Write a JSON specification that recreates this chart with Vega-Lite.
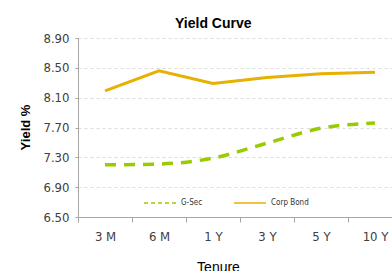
{
  "$schema": "https://vega.github.io/schema/vega-lite/v6.json",
  "autosize": {"type": "none"},
  "width": 324,
  "height": 179,
  "padding": {"left": 78, "top": 38, "right": 0, "bottom": 54},
  "background": "white",
  "title": {
    "text": "Yield Curve",
    "anchor": "start",
    "frame": "group",
    "dx": 97,
    "dy": 23,
    "offset": 10,
    "baseline": "bottom",
    "font": "Liberation Sans",
    "fontSize": 14,
    "fontWeight": "bold",
    "color": "#000000"
  },
  "config": {
    "view": {"stroke": null},
    "font": "Liberation Sans"
  },
  "data": {
    "values": [
      {"tenure": "3 M", "series": "G-Sec", "yield": 7.20},
      {"tenure": "6 M", "series": "G-Sec", "yield": 7.21},
      {"tenure": "1 Y", "series": "G-Sec", "yield": 7.29},
      {"tenure": "3 Y", "series": "G-Sec", "yield": 7.49},
      {"tenure": "5 Y", "series": "G-Sec", "yield": 7.69},
      {"tenure": "10 Y", "series": "G-Sec", "yield": 7.76},
      {"tenure": "3 M", "series": "Corp Bond", "yield": 8.19},
      {"tenure": "6 M", "series": "Corp Bond", "yield": 8.46},
      {"tenure": "1 Y", "series": "Corp Bond", "yield": 8.29},
      {"tenure": "3 Y", "series": "Corp Bond", "yield": 8.37},
      {"tenure": "5 Y", "series": "Corp Bond", "yield": 8.42},
      {"tenure": "10 Y", "series": "Corp Bond", "yield": 8.44}
    ]
  },
  "encoding": {
    "x": {
      "field": "tenure",
      "type": "ordinal",
      "sort": ["3 M", "6 M", "1 Y", "3 Y", "5 Y", "10 Y"],
      "scale": {"paddingInner": 0, "paddingOuter": 0},
      "axis": {
        "title": "Tenure",
        "titleX": 140,
        "titleY": 43,
        "titleAlign": "center",
        "titleBaseline": "top",
        "titleFontSize": 14,
        "titleFontWeight": "normal",
        "titleColor": "#000000",
        "titleFont": "Liberation Sans",
        "labelAngle": 0,
        "labelFontSize": 13,
        "labelFont": "Liberation Sans Narrow, DejaVu Sans Condensed, Liberation Sans",
        "labelColor": "#404040",
        "labelPadding": 14,
        "labelBaseline": "middle",
        "tickBand": "extent",
        "tickSize": 5,
        "tickColor": "#a6a6a6",
        "domainColor": "#a6a6a6",
        "grid": false
      }
    },
    "y": {
      "field": "yield",
      "type": "quantitative",
      "scale": {"domain": [6.5, 8.9], "nice": false, "zero": false},
      "axis": {
        "title": "Yield %",
        "titleX": -53,
        "titleY": 89,
        "titleAngle": 270,
        "titleAlign": "center",
        "titleBaseline": "middle",
        "titleFontSize": 13,
        "titleFontWeight": "bold",
        "titleColor": "#000000",
        "values": [6.5, 6.9, 7.3, 7.7, 8.1, 8.5, 8.9],
        "format": ".2f",
        "labelFontSize": 13,
        "labelFont": "Liberation Sans Narrow, DejaVu Sans Condensed, Liberation Sans",
        "labelColor": "#404040",
        "labelPadding": 6,
        "tickSize": 3,
        "tickColor": "#a6a6a6",
        "domainColor": "#a6a6a6",
        "grid": true,
        "gridDash": [3, 3],
        "gridColor": "#dcdcdc"
      }
    },
    "color": {
      "field": "series",
      "type": "nominal",
      "scale": {"domain": ["G-Sec", "Corp Bond"], "range": ["#99cc00", "#e8b000"]},
      "legend": {
        "title": null,
        "orient": "none",
        "legendX": 65,
        "legendY": 148,
        "direction": "horizontal",
        "symbolType": "stroke",
        "symbolSize": 1024,
        "symbolStrokeWidth": 1.5,
        "labelFontSize": 8,
        "labelFont": "Liberation Sans Narrow, DejaVu Sans Condensed, Liberation Sans",
        "labelColor": "#333333",
        "labelOffset": 4,
        "columnPadding": 28,
        "encode": {
          "symbols": {
            "update": {
              "strokeDash": {"signal": "datum.value === 'G-Sec' ? [4, 3] : [1, 0]"}
            }
          }
        }
      }
    }
  },
  "layer": [
    {
      "transform": [{"filter": "datum.series === 'G-Sec'"}],
      "mark": {"type": "line", "interpolate": "monotone", "strokeWidth": 3.5, "strokeDash": [11, 8]}
    },
    {
      "transform": [{"filter": "datum.series === 'Corp Bond'"}],
      "mark": {"type": "line", "strokeWidth": 3}
    }
  ]
}
